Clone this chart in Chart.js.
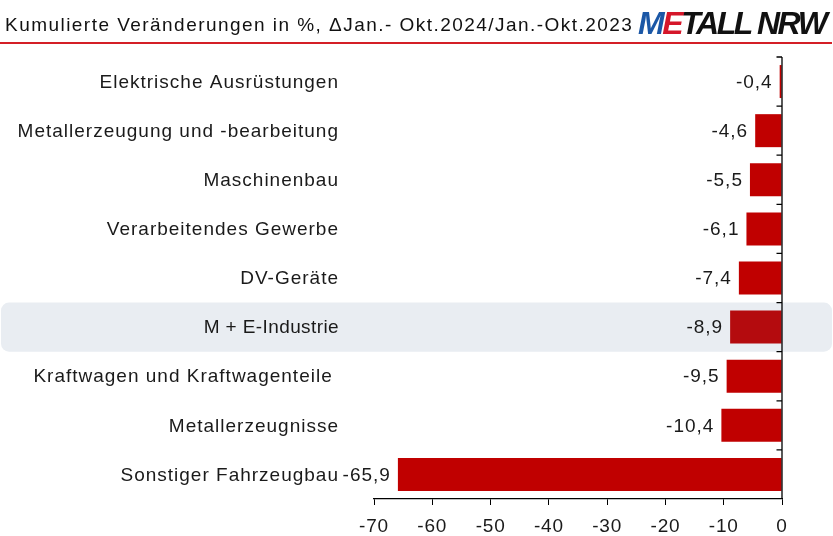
<!DOCTYPE html>
<html><head><meta charset="utf-8">
<script src="https://cdn.jsdelivr.net/npm/chart.js@4/dist/chart.umd.min.js"></script>
<style>
html,body{margin:0;padding:0;background:#fff;}
#wrap{position:relative;width:833px;height:536px;overflow:hidden;}
#c{position:absolute;left:0;top:0;}
.sub{position:absolute;left:5px;top:13px;font:19px "Liberation Sans",Arial,sans-serif;color:#111;white-space:nowrap;line-height:24px;}
.logo{position:absolute;left:638px;top:5px;font:italic bold 32px "Liberation Sans",Arial,sans-serif;letter-spacing:-2.4px;white-space:nowrap;line-height:36px;color:#111;}
.rule{position:absolute;left:0;top:42px;width:832px;height:2px;background:#d41f26;}
</style></head>
<body><div id="wrap"><canvas id="c" width="833" height="536"></canvas>
<div class="sub" id="sub">Kumulierte Veränderungen in %, ΔJan.- Okt.2024/Jan.-Okt.2023</div>
<div class="logo"><span style="color:#1b57a6">M</span><span style="color:#d5172a">E</span>TALL NRW</div>
<div class="rule"></div></div>
<script>
const categories = ['Elektrische Ausrüstungen', 'Metallerzeugung und -bearbeitung', 'Maschinenbau', 'Verarbeitendes Gewerbe', 'DV-Geräte', 'M + E-Industrie', 'Kraftwagen und Kraftwagenteile ', 'Metallerzeugnisse', 'Sonstiger Fahrzeugbau'];
const values = [-0.4, -4.6, -5.5, -6.1, -7.4, -8.9, -9.5, -10.4, -65.9];
const xTicks = [-70, -60, -50, -40, -30, -20, -10, 0];
const highlightCategory = 'M + E-Industrie';

// fit subtitle width to reference
(function(){
  const el = document.getElementById('sub');
  const w = el.getBoundingClientRect().width;
  const target = 627;
  const n = el.textContent.length - 1;
  el.style.letterSpacing = ((target - w) / n).toFixed(2) + 'px';
})();

const FONT = '"Liberation Sans", Arial, sans-serif';
const hiIdx = categories.indexOf(highlightCategory);

const chartPlugin = {
  id: 'custom',
  beforeDraw(chart) {
    const ctx = chart.ctx;
    ctx.letterSpacing = '0.8px';
    const y = chart.scales.y;
    const band = y.getPixelForValue(1) - y.getPixelForValue(0);
    const cy = y.getPixelForValue(hiIdx);
    ctx.save();
    ctx.fillStyle = '#e9edf2';
    ctx.beginPath();
    ctx.roundRect(1, cy - band / 2, 831, band, 8);
    ctx.fill();
    ctx.restore();
  },
  afterDatasetsDraw(chart) {
    const ctx = chart.ctx;
    const x = chart.scales.x, y = chart.scales.y, area = chart.chartArea;
    const band = y.getPixelForValue(1) - y.getPixelForValue(0);
    const x0 = x.getPixelForValue(0);
    ctx.save();
    // zero axis line + tick marks
    ctx.strokeStyle = '#000';
    ctx.lineWidth = 1.3;
    ctx.beginPath();
    ctx.moveTo(x0, area.top);
    ctx.lineTo(x0, area.bottom);
    for (let i = 0; i < categories.length; i++) {
      const b = y.getPixelForValue(i) - band / 2;
      ctx.moveTo(x0 - 5.5, b);
      ctx.lineTo(x0, b);
    }
    ctx.stroke();
    // category labels
    ctx.font = '19px ' + FONT;
    ctx.fillStyle = '#1a1a1a';
    ctx.textAlign = 'right';
    ctx.textBaseline = 'middle';
    categories.forEach((c, i) => {
      ctx.letterSpacing = i === hiIdx ? '0.4px' : '1px';
      ctx.fillText(c, area.left - 35, y.getPixelForValue(i) + 1);
    });
    // value labels
    ctx.letterSpacing = '1px';
    const meta = chart.getDatasetMeta(0);
    meta.data.forEach((el, i) => {
      const txt = values[i].toFixed(1).replace('.', ',');
      ctx.fillText(txt, Math.min(el.x, el.base) - 7, el.y + 1);
    });
    ctx.restore();
  }
};

new Chart(document.getElementById('c'), {
  type: 'bar',
  data: {
    labels: categories,
    datasets: [{
      data: values,
      backgroundColor: categories.map((c, i) => i === hiIdx ? '#b40b0e' : '#c00000'),
      borderWidth: 0,
      barPercentage: 0.672,
      categoryPercentage: 1
    }]
  },
  options: {
    indexAxis: 'y',
    responsive: false,
    animation: false,
    layout: { padding: { top: 57, right: 51, left: 0, bottom: 0 } },
    plugins: { legend: { display: false }, tooltip: { enabled: false } },
    scales: {
      x: {
        type: 'linear', position: 'bottom', min: -70, max: 0,
        afterBuildTicks: s => { s.ticks = xTicks.map(v => ({ value: v })); },
        grid: { display: true, drawOnChartArea: false, drawTicks: true, tickLength: 6, color: '#000', lineWidth: 1 },
        border: { display: true, color: '#000', width: 1.3 },
        ticks: { font: { family: FONT, size: 19 }, color: '#1a1a1a', padding: 10, maxRotation: 0, callback: v => String(v) },
        afterFit: s => { s.height = 37; }
      },
      y: {
        type: 'category', position: 'left',
        grid: { display: false }, border: { display: false },
        ticks: { display: false },
        afterFit: s => { s.width = 374; }
      }
    }
  },
  plugins: [chartPlugin]
});
</script>
</body></html>
